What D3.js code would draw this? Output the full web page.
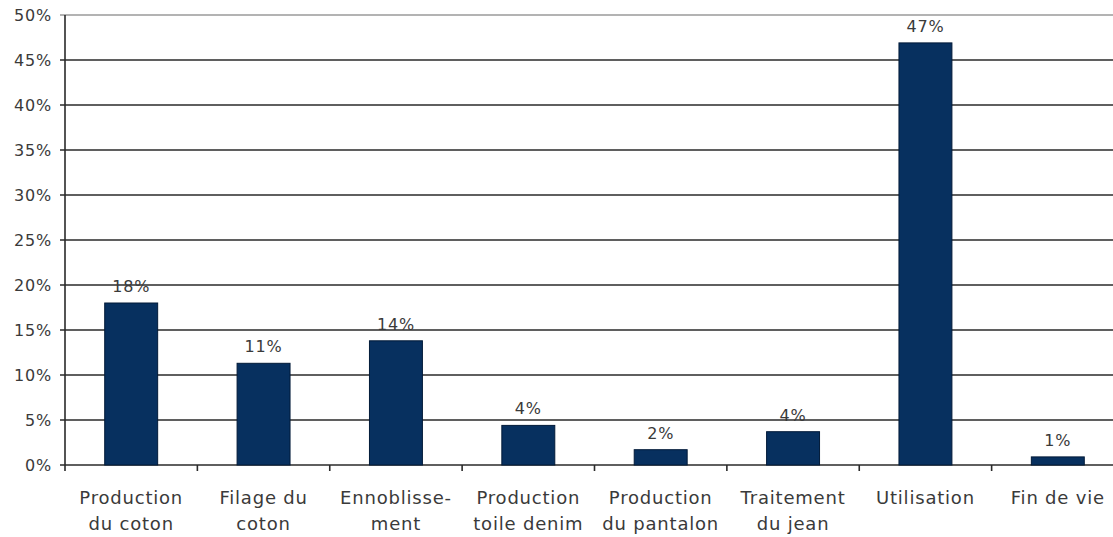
<!DOCTYPE html>
<html>
<head>
<meta charset="utf-8">
<script src="https://cdn.jsdelivr.net/npm/d3@7"></script>
<style>
body { margin: 0; background: #fff; }
text { font-family: "DejaVu Sans", Verdana, sans-serif; }
</style>
</head>
<body>
<div id="chart"></div>
<script>
var categories = [
	["Production", "du coton"],
	["Filage du", "coton"],
	["Ennoblisse-", "ment"],
	["Production", "toile denim"],
	["Production", "du pantalon"],
	["Traitement", "du jean"],
	["Utilisation"],
	["Fin de vie"]
];
var values = [18, 11.3, 13.8, 4.4, 1.7, 3.7, 46.9, 0.9];
var valueLabels = ["18%", "11%", "14%", "4%", "2%", "4%", "47%", "1%"];
var yTicks = [0, 5, 10, 15, 20, 25, 30, 35, 40, 45, 50];

var width = 1113, height = 537;
var plotLeft = 65, plotTop = 15, plotBottom = 465, plotRight = 1124;

var svg = d3.select("#chart").append("svg")
	.attr("width", width)
	.attr("height", height);

var x = d3.scaleBand()
	.domain(d3.range(categories.length))
	.range([plotLeft, plotRight])
	.paddingInner(0.6)
	.paddingOuter(0.3);

var y = d3.scaleLinear()
	.domain([0, 50])
	.range([plotBottom, plotTop]);

// grid lines
svg.append("g")
	.selectAll("line")
	.data(yTicks)
	.enter()
	.append("line")
	.attr("x1", plotLeft - 5)
	.attr("x2", plotRight)
	.attr("y1", function (d) { return y(d); })
	.attr("y2", function (d) { return y(d); })
	.attr("stroke", function (d) { return d == 50 ? "#9a9a9a" : "#2a2a2a"; })
	.attr("stroke-width", 1.6);

// y labels
svg.append("g")
	.selectAll("text")
	.data(yTicks)
	.enter()
	.append("text")
	.attr("x", 52)
	.attr("y", function (d) { return y(d) + 6; })
	.attr("text-anchor", "end")
	.attr("font-size", 16)
	.attr("letter-spacing", 0.8)
	.attr("fill", "#3a3a3a")
	.text(function (d) { return d + "%"; });

// left axis
svg.append("line")
	.attr("x1", plotLeft).attr("x2", plotLeft)
	.attr("y1", plotTop).attr("y2", plotBottom)
	.attr("stroke", "#2a2a2a")
	.attr("stroke-width", 1.6);

// bottom ticks between categories
var step = x.step();
svg.append("g")
	.selectAll("line")
	.data(d3.range(categories.length + 1))
	.enter()
	.append("line")
	.attr("x1", function (d) { return plotLeft + d * step; })
	.attr("x2", function (d) { return plotLeft + d * step; })
	.attr("y1", plotBottom)
	.attr("y2", plotBottom + 6)
	.attr("stroke", "#2a2a2a")
	.attr("stroke-width", 1.6);

// bars
svg.append("g")
	.selectAll("rect")
	.data(values)
	.enter()
	.append("rect")
	.attr("x", function (d, i) { return x(i); })
	.attr("y", function (d) { return y(d); })
	.attr("width", x.bandwidth())
	.attr("height", function (d) { return plotBottom - y(d); })
	.attr("fill", "#07305f")
	.attr("stroke", "#021a38")
	.attr("stroke-width", 1);

// value labels
svg.append("g")
	.selectAll("text")
	.data(values)
	.enter()
	.append("text")
	.attr("x", function (d, i) { return x(i) + x.bandwidth() / 2; })
	.attr("y", function (d) { return y(d) - 11; })
	.attr("text-anchor", "middle")
	.attr("font-size", 16)
	.attr("letter-spacing", 0.8)
	.attr("fill", "#3a3a3a")
	.text(function (d, i) { return valueLabels[i]; });

// category labels
var cat = svg.append("g")
	.selectAll("text")
	.data(categories)
	.enter()
	.append("text")
	.attr("x", function (d, i) { return x(i) + x.bandwidth() / 2; })
	.attr("y", 504)
	.attr("text-anchor", "middle")
	.attr("font-size", 18)
	.attr("letter-spacing", 0.8)
	.attr("fill", "#3a3a3a");

cat.selectAll("tspan")
	.data(function (d) { return d; })
	.enter()
	.append("tspan")
	.attr("x", function () { return d3.select(this.parentNode).attr("x"); })
	.attr("dy", function (d, i) { return i == 0 ? 0 : 26; })
	.text(function (d) { return d; });
</script>
</body>
</html>
